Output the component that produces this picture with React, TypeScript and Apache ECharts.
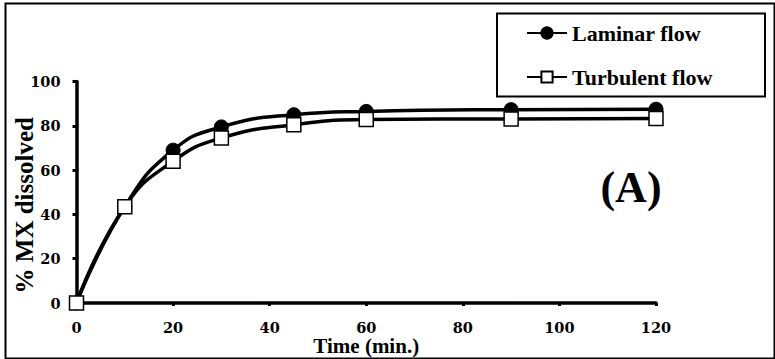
import React, { useEffect, useRef } from "react";
import * as echarts from "echarts";

const timePoints = [0, 10, 20, 30, 45, 60, 90, 120];
const laminar = [0, 43.5, 69, 79.5, 85, 86.5, 87.3, 87.5];
const turbulent = [0, 43.5, 64, 74.5, 80.5, 82.8, 83.1, 83.3];
const seriesNames = ["Laminar flow", "Turbulent flow"];
const xTitle = "Time (min.)";
const yTitle = "% MX dissolved";
const panelLabel = "(A)";

const serif = "'Liberation Serif', 'Times New Roman', serif";
const tickFont = "'DejaVu Serif', serif";

export default function App() {
  const ref = useRef<HTMLDivElement>(null);
  useEffect(() => {
    if (!ref.current) return;
    const chart = echarts.init(ref.current, undefined, { renderer: "svg" });
    const pair = (ys: number[]) => timePoints.map((t, i) => [t, ys[i]]);
    chart.setOption({
      animation: false,
      backgroundColor: "#ffffff",
      grid: { left: 76.5, right: 119, top: 81.5, bottom: 56, outerBoundsMode: "none", containLabel: false },
      xAxis: {
        type: "value",
        min: 0,
        max: 120,
        interval: 20,
        name: xTitle,
        nameLocation: "middle",
        nameGap: 33,
        nameMoveOverlap: false,
        nameTextStyle: { fontFamily: serif, fontWeight: "bold", fontSize: 21, color: "#000", lineHeight: 20 },
        axisLine: { lineStyle: { color: "#000", width: 3.5 } },
        axisTick: { show: true, length: 3, lineStyle: { color: "#000", width: 3 } },
        axisLabel: {
          margin: 17,
          fontFamily: tickFont,
          fontWeight: "bold",
          fontSize: 14.5,
          lineHeight: 14,
          color: "#000",
        },
        splitLine: { show: false },
      },
      yAxis: {
        type: "value",
        min: 0,
        max: 100,
        interval: 20,
        name: yTitle,
        nameLocation: "middle",
        nameGap: 40,
        nameMoveOverlap: false,
        nameTextStyle: {
          fontFamily: serif,
          fontWeight: "bold",
          fontSize: 25,
          color: "#000",
          padding: [0, 26, 0, 0],
        },
        axisLine: { show: true, lineStyle: { color: "#000", width: 3.5 } },
        axisTick: { show: true, length: 4, lineStyle: { color: "#000", width: 3 } },
        axisLabel: { margin: 16, fontFamily: tickFont, fontWeight: "bold", fontSize: 14.5, color: "#000" },
        splitLine: { show: false },
      },
      legend: {
        orient: "vertical",
        left: 521,
        top: 17,
        itemWidth: 40,
        itemHeight: 14,
        itemGap: 22,
        data: seriesNames,
        textStyle: { fontFamily: serif, fontWeight: "bold", fontSize: 22, color: "#000", lineHeight: 22 },
      },
      graphic: [
        {
          type: "rect",
          left: 3,
          top: 1,
          shape: { x: 0, y: 0, width: 769, height: 355 },
          style: { fill: "none", stroke: "#000", lineWidth: 2 },
          silent: true,
        },
        {
          type: "rect",
          shape: { x: 497, y: 13.5, width: 268, height: 83 },
          style: { fill: "none", stroke: "#000", lineWidth: 2 },
          silent: true,
        },
        {
          type: "text",
          x: 631,
          y: 187,
          style: {
            text: panelLabel,
            font: `bold 44px ${serif}`,
            fill: "#000",
            align: "center",
            verticalAlign: "middle",
          },
        },
      ],
      series: [
        {
          name: seriesNames[0],
          type: "line",
          data: pair(laminar),
          smooth: 0.5,
          symbol: "circle",
          symbolSize: 14,
          lineStyle: { color: "#000", width: 3.5 },
          itemStyle: { color: "#000", borderColor: "#000", borderWidth: 1 },
        },
        {
          name: seriesNames[1],
          type: "line",
          data: pair(turbulent),
          smooth: 0.5,
          symbol: "rect",
          symbolSize: 14,
          lineStyle: { color: "#000", width: 3.5 },
          itemStyle: { color: "#fff", borderColor: "#000", borderWidth: 1.5 },
        },
      ],
    });
    return () => chart.dispose();
  }, []);
  return (
    <div
      ref={ref}
      style={{ position: "fixed", left: 0, top: 0, width: 775, height: 359 }}
    />
  );
}
